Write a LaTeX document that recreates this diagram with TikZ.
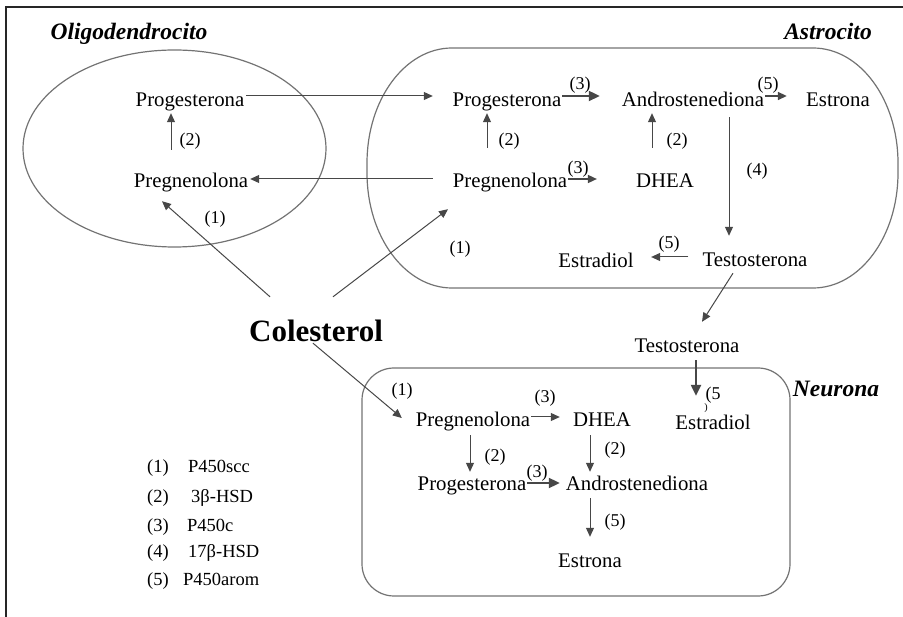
\documentclass[tikz,border=0pt]{standalone}
\usepackage{fontspec}
\setmainfont{Liberation Serif}
\usetikzlibrary{arrows.meta}
\newcommand\tsz{\fontsize{20.8}{24}\selectfont}
\newcommand\lsz{\fontsize{18}{21}\selectfont}
\newcommand\gsz{\fontsize{18.5}{22}\selectfont}
\newcommand\ttsz{\fontsize{23.5}{28}\selectfont}
\begin{document}
\begin{tikzpicture}[x=1pt,y=-1pt,
  comp/.style={inner sep=0pt, text height=14pt, text depth=4.5pt, anchor=base, font=\tsz},
  lab/.style={inner sep=0pt, font=\lsz},
  leg/.style={inner sep=0pt, anchor=base west, font=\gsz},
  ttl/.style={inner sep=0pt, anchor=base, font=\ttsz\bfseries\itshape},
  arr/.style={draw=black!72, line width=1pt, -{Triangle[length=9pt,width=8pt]}},
  marr/.style={arr, line width=1.6pt},
  barr/.style={arr, line width=2.3pt, -{Triangle[length=11pt,width=10pt]}},
  cell/.style={draw=black!55, line width=1.2pt}]
\useasboundingbox (0,0) rectangle (903,617);
% frame
\draw[line width=1.5pt, black!85] (6,617) -- (6,7) -- (903,7);
% compartments
\draw[cell] (174.5,148.5) ellipse [x radius=151.5, y radius=98.5];
\draw[cell] (452,48) -- (813,48)
  arc[start angle=-90, end angle=0, x radius=85, y radius=115] -- (898,173)
  arc[start angle=0, end angle=90, x radius=85, y radius=115] -- (452,288)
  arc[start angle=90, end angle=180, x radius=85, y radius=115] -- (367,163)
  arc[start angle=180, end angle=270, x radius=85, y radius=115] -- cycle;
\draw[cell, rounded corners=32pt] (362,368) rectangle (790,596);
% titles
\node[ttl] (toligo) at (129,40) {Oligodendrocito};
\node[ttl] (tastro) at (828,40) {Astrocito};
\node[ttl] (tneur) at (836,397) {Neurona};
% compounds
\node[comp] (oprog) at (190,107) {Progesterona};
\node[comp] (opreg) at (191,188) {Pregnenolona};
\node[comp] (aprog) at (507,107) {Progesterona};
\node[comp] (aandro) at (693,107) {Androstenediona};
\node[comp] (aestrona) at (838,107) {Estrona};
\node[comp] (apreg) at (510,188) {Pregnenolona};
\node[comp] (adhea) at (665,188) {DHEA};
\node[comp] (atesto) at (755,267) {Testosterona};
\node[comp] (aestradiol) at (596,268) {Estradiol};
\node[comp] (ntesto) at (687,353) {Testosterona};
\node[comp] (nestradiol) at (713,430) {Estradiol};
\node[comp] (npreg) at (473,427) {Pregnenolona};
\node[comp] (ndhea) at (602,427) {DHEA};
\node[comp] (nprog) at (472,491) {Progesterona};
\node[comp] (nandro) at (637,491) {Androstenediona};
\node[comp] (nestrona) at (590,568) {Estrona};
\node[inner sep=0pt, text height=22pt, text depth=1pt, anchor=base,
      font=\fontsize{31}{36}\selectfont\bfseries] (col) at (316,342) {Colesterol};
% enzyme labels
\node[lab] (l1) at (190,141) {(2)};
\node[lab] (l2) at (215,219) {(1)};
\node[lab] (l3) at (460,249) {(1)};
\node[lab] (l4) at (580,85) {(3)};
\node[lab] (l5) at (768,85) {(5)};
\node[lab] (l6) at (509,141) {(2)};
\node[lab] (l7) at (578,169) {(3)};
\node[lab] (l8) at (677,141) {(2)};
\node[lab] (l9) at (757,171) {(4)};
\node[lab] (l10) at (669,244) {(5)};
\node[lab] (l11) at (402,391) {(1)};
\node[lab] (l12) at (545,398) {(3)};
\node[lab] (l13) at (495,457) {(2)};
\node[lab] (l14) at (537,473) {(3)};
\node[lab] (l15) at (615,450) {(2)};
\node[lab] (l16) at (615,522) {(5)};
\node[lab] (l17) at (713,395) {(5};
\node[inner sep=0pt, font=\fontsize{10}{12}\selectfont] (l18) at (706,408.5) {)};
% legend
\node[leg] (g1) at (147,473) {(1)};
\node[leg] (g1t) at (188,473) {P450scc};
\node[leg] (g2) at (147,503) {(2)};
\node[leg] (g2t) at (191,503) {3β-HSD};
\node[leg] (g3) at (147,532) {(3)};
\node[leg] (g3t) at (187,532) {P450c};
\node[leg] (g4) at (147,558) {(4)};
\node[leg] (g4t) at (188,558) {17β-HSD};
\node[leg] (g5) at (147,586) {(5)};
\node[leg] (g5t) at (183,586) {P450arom};
% connectors: oligodendrocyte / astrocyte
\draw[arr] ([shift={(2pt,6.25pt)}]oprog.east) -- ([shift={(-19.7pt,6.25pt)}]aprog.west);
\draw[arr] ([shift={(-19.8pt,4.25pt)}]apreg.west) -- ([shift={(1.8pt,4.25pt)}]opreg.east);
\draw[arr] ([shift={(-20pt,24pt)}]opreg.north) -- ([shift={(-19pt,-1.5pt)}]oprog.south);
\draw[arr] ([shift={(-46pt,23pt)}]col.north) -- ([shift={(-29pt,-8.5pt)}]opreg.south);
\draw[arr] ([shift={(17pt,23pt)}]col.north) -- ([shift={(-62pt,-16.5pt)}]apreg.south);
\draw[arr] ([shift={(-23pt,26pt)}]apreg.north) -- ([shift={(-20pt,-1.5pt)}]aprog.south);
\draw[barr] ([shift={(0.7pt,6.25pt)}]aprog.east) -- ([shift={(-22pt,6.25pt)}]aandro.west);
\draw[marr] ([shift={(1pt,6.25pt)}]aandro.east) -- ([shift={(-19.2pt,6.25pt)}]aestrona.west);
\draw[marr] ([shift={(0.8pt,4.25pt)}]apreg.east) -- ([shift={(-39pt,4.25pt)}]adhea.west);
\draw[arr] ([shift={(-13pt,26pt)}]adhea.north) -- ([shift={(-41pt,-1.5pt)}]aandro.south);
\draw[arr] ([shift={(36pt,-5.5pt)}]aandro.south) -- ([shift={(-26pt,17pt)}]atesto.north);
\draw[arr] ([shift={(-13.9pt,5.25pt)}]atesto.west) -- ([shift={(17.4pt,6.25pt)}]aestradiol.east);
\draw[arr] ([shift={(-22pt,-1.5pt)}]atesto.south) -- ([shift={(15pt,17pt)}]ntesto.north);
% neuron
\draw[barr] ([shift={(9pt,-2.5pt)}]ntesto.south) -- ([shift={(-17pt,20pt)}]nestradiol.north);
\draw[arr] ([shift={(-3pt,0pt)}]col.south) -- ([shift={(-13.8pt,4.25pt)}]npreg.west);
\draw[arr] ([shift={(0.8pt,5.25pt)}]npreg.east) -- ([shift={(-13.1pt,5.25pt)}]ndhea.west);
\draw[arr] ([shift={(-3pt,-3.5pt)}]npreg.south) -- ([shift={(-2pt,5pt)}]nprog.north);
\draw[barr] ([shift={(0.7pt,3.25pt)}]nprog.east) -- ([shift={(-6pt,3.25pt)}]nandro.west);
\draw[arr] ([shift={(-12pt,-3.5pt)}]ndhea.south) -- ([shift={(-47pt,5pt)}]nandro.north);
\draw[arr] ([shift={(-47pt,-2.5pt)}]nandro.south) -- ([shift={(0pt,17pt)}]nestrona.north);
\end{tikzpicture}
\end{document}
